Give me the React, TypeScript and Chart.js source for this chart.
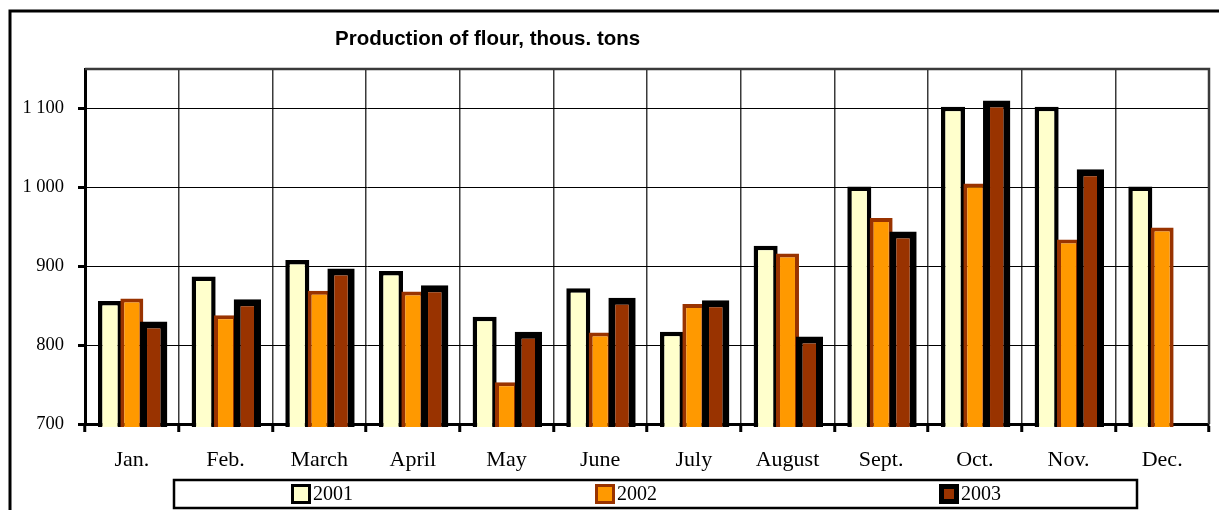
import React, { useEffect, useRef } from "react";
import { Chart, registerables } from "chart.js";

Chart.register(...registerables);

const months = ["Jan.", "Feb.", "March", "April", "May", "June", "July", "August", "Sept.", "Oct.", "Nov.", "Dec."];
const seriesLabels = ["2001", "2002", "2003"];
const y2001 = [856, 887, 908, 894, 836, 872, 817, 926, 1001, 1102, 1102, 1001];
const y2002 = [859, 838, 869, 868, 753, 816, 852, 916, 961, 1005, 934, 949];
const y2003: (number | null)[] = [830, 858, 897, 876, 817, 860, 857, 811, 944, 1110, 1023, null];
const yTicks = [700, 800, 900, 1000, 1100];
const titleText = "Production of flour, thous. tons";

const SERIF = '"Liberation Serif", "Times New Roman", serif';
const SANS = '"Liberation Sans", Arial, sans-serif';

const fmt = (v: number) =>
  v >= 1000 ? `${Math.floor(v / 1000)} ${String(v % 1000).padStart(3, "0")}` : String(v);

const excelPlugin = {
  id: "excelLook",
  beforeDraw(chart: any) {
    const ctx = chart.ctx;
    ctx.save();
    ctx.fillStyle = "#fff";
    ctx.fillRect(0, 0, chart.width, chart.height);
    ctx.strokeStyle = "#000";
    ctx.lineWidth = 3;
    ctx.beginPath();
    ctx.moveTo(10, chart.height + 5);
    ctx.lineTo(10, 11);
    ctx.lineTo(chart.width + 5, 11);
    ctx.stroke();
    ctx.font = `bold 20.5px ${SANS}`;
    ctx.fillStyle = "#000";
    ctx.textBaseline = "middle";
    ctx.textAlign = "left";
    ctx.fillText(titleText, 335, 39);
    ctx.restore();
  },
  beforeDatasetsDraw(chart: any) {
    const { ctx, chartArea: a } = chart;
    ctx.save();
    ctx.strokeStyle = "#3a3a3a";
    ctx.lineWidth = 2.5;
    ctx.beginPath();
    ctx.moveTo(a.left, a.top);
    ctx.lineTo(a.right, a.top);
    ctx.lineTo(a.right, a.bottom);
    ctx.stroke();
    ctx.restore();
    ctx.save();
    ctx.beginPath();
    ctx.rect(a.left, a.top - 5, a.right - a.left, a.bottom - a.top + 8);
    ctx.clip();
    const metas = chart.getSortedVisibleDatasetMetas();
    for (const m of metas) m.controller.draw();
    ctx.restore();
    return false;
  },
  afterDraw(chart: any) {
    const ctx = chart.ctx;
    ctx.save();
    ctx.strokeStyle = "#000";
    ctx.lineWidth = 2.5;
    ctx.strokeRect(174, 480, 963, 28);
    const xs = [291, 595, 939];
    chart.data.datasets.forEach((ds: any, i: number) => {
      const x = xs[i];
      const y = 484;
      const s = 20;
      const bw = i === 2 ? 5 : 3;
      ctx.fillStyle = ds.borderColor;
      ctx.fillRect(x, y, s, s);
      ctx.fillStyle = ds.backgroundColor;
      ctx.fillRect(x + bw, y + bw, s - 2 * bw, s - 2 * bw);
      ctx.fillStyle = "#000";
      ctx.font = `20px ${SERIF}`;
      ctx.textBaseline = "middle";
      ctx.textAlign = "left";
      ctx.fillText(ds.label, x + 22, y + 11);
    });
    ctx.restore();
  },
};

export default function App() {
  const ref = useRef<HTMLCanvasElement>(null);
  useEffect(() => {
    if (!ref.current) return;
    const chart = new Chart(ref.current, {
      type: "bar",
      data: {
        labels: months,
        datasets: [
          {
            label: seriesLabels[0],
            data: y2001,
            backgroundColor: "#FFFFCC",
            borderColor: "#000000",
            borderWidth: 4.5,
            borderSkipped: false,
            barPercentage: 1.1,
            categoryPercentage: 0.7,
          },
          {
            label: seriesLabels[1],
            data: y2002,
            backgroundColor: "#FF9900",
            borderColor: "#993300",
            borderWidth: 4,
            borderSkipped: false,
            barPercentage: 1.05,
            categoryPercentage: 0.7,
          },
          {
            label: seriesLabels[2],
            data: y2003,
            backgroundColor: "#993300",
            borderColor: "#000000",
            borderWidth: 7,
            borderSkipped: false,
            barPercentage: 1.25,
            categoryPercentage: 0.7,
          },
        ],
      },
      options: {
        responsive: false,
        animation: false,
        devicePixelRatio: 1,
        layout: { padding: { top: 69, right: 10, left: 0, bottom: 0 } },
        plugins: {
          legend: { display: false },
          title: { display: false },
          tooltip: { enabled: false },
        },
        scales: {
          x: {
            offset: true,
            grid: {
              offset: true,
              color: "#3a3a3a",
              lineWidth: 1.5,
              tickLength: 8,
              tickWidth: 3,
              tickColor: "#000",
            },
            border: { color: "#000", width: 3 },
            ticks: {
              font: { family: SERIF, size: 22 },
              color: "#000",
              padding: 15,
              maxRotation: 0,
              autoSkip: false,
            },
            afterFit: (s: any) => {
              s.height = 86;
            },
          },
          y: {
            min: 700,
            max: 1150,
            afterBuildTicks: (s: any) => {
              s.ticks = yTicks.map((v) => ({ value: v }));
            },
            afterFit: (s: any) => {
              s.width = 85;
            },
            ticks: {
              font: { family: SERIF, size: 18.5 },
              color: "#000",
              padding: 14,
              callback: (v: any) => fmt(Number(v)),
            },
            grid: {
              color: "#000",
              lineWidth: 1,
              tickLength: 7,
              tickWidth: 3,
              tickColor: "#000",
            },
            border: { color: "#000", width: 3 },
          },
        },
      },
      plugins: [excelPlugin],
    });
    return () => chart.destroy();
  }, []);
  return (
    <div style={{ position: "absolute", left: 0, top: 0, width: 1219, height: 510 }}>
      <canvas ref={ref} width={1219} height={510} style={{ display: "block", width: 1219, height: 510 }} />
    </div>
  );
}
